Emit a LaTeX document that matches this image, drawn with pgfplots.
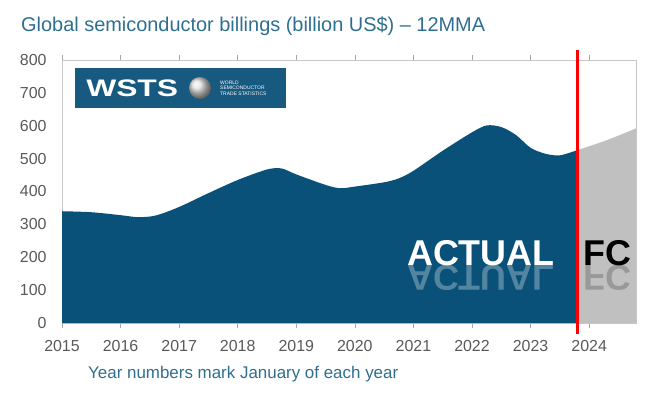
\documentclass[border=0pt]{standalone}
\usepackage{pgfplots}
\pgfplotsset{compat=1.18}
\usepackage{fontspec}
\setmainfont{Liberation Sans}
\definecolor{wblue}{HTML}{0A5179}
\definecolor{logoblue}{HTML}{17597F}
\definecolor{fcgray}{HTML}{C0C0C0}
\definecolor{titleblue}{HTML}{2E6F8F}
\definecolor{labgray}{HTML}{595959}
\begin{document}
\begin{tikzpicture}[x=1bp,y=1bp]
\useasboundingbox (0,0) rectangle (654,397);
\begin{axis}[
  at={(62bp,74bp)}, anchor=south west,
  scale only axis, width=574bp, height=263bp,
  xmin=2015, xmax=2024.8, ymin=0, ymax=800,
  xtick={2015,2016,...,2024}, ytick={0,100,...,800},
  /pgf/number format/1000 sep={},
  /pgf/number format/assume math mode=true,
  tick label style={font=\fontsize{16}{16}\selectfont, text=labgray},
  axis line style={draw=gray!45, line width=0.8pt},
  tick align=outside, major tick length=5bp,
  xtick style={draw=gray!70, line width=0.6pt},
  ytick style={draw=none},
  xticklabel style={yshift=-9bp},
  yticklabel style={xshift=-7bp},
  clip=false,
]
\addplot[fill=wblue, draw=none, smooth, tension=0.5] coordinates {
(2015.0,340) (2015.5,337) (2016.0,328) (2016.3,322) (2016.6,327)
(2017.0,353) (2017.5,395) (2018.0,435) (2018.5,467) (2018.75,470)
(2019.0,452) (2019.5,420) (2019.75,410) (2020.0,415) (2020.5,428)
(2020.75,440) (2021.0,463) (2021.5,524) (2022.0,580) (2022.25,601)
(2022.5,596) (2022.75,572) (2023.0,533) (2023.25,515) (2023.5,510)
(2023.8,526)} \closedcycle;
\addplot[fill=fcgray, draw=none, smooth] coordinates {
(2023.8,526) (2024.3,556) (2024.8,592)} \closedcycle;
\addplot[red, line width=2.6pt] coordinates {(2023.8,-32) (2023.8,830)};
\end{axis}
% reflections
\begin{scope}
\clip (400,104) rectangle (640,132);
\node[anchor=base west, inner sep=0, yscale=-1, transform shape, text=white, opacity=0.3,
  font=\fontsize{36}{36}\bfseries\selectfont] at (407,132) {ACTUAL};
\node[anchor=base west, inner sep=0, yscale=-1, transform shape, text=black, opacity=0.2,
  font=\fontsize{36}{36}\bfseries\selectfont] at (583,132) {FC};
\end{scope}
\node[anchor=base west, inner sep=0, text=white, font=\fontsize{36}{36}\bfseries\selectfont] at (407,132) {ACTUAL};
\node[anchor=base west, inner sep=0, text=black, font=\fontsize{36}{36}\bfseries\selectfont] at (583,132) {FC};
% logo
\fill[logoblue] (75,289) rectangle (286,329);
\node[anchor=west, inner sep=0, text=white, xscale=1.33, transform shape,
  font=\fontsize{24}{24}\bfseries\selectfont] at (86,309) {WSTS};
\shade[ball color=gray!25] (200,309) circle (11);
\node[anchor=west, inner sep=0, text=white, align=left,
  font=\fontsize{5}{5.5}\selectfont] at (220,309) {WORLD\\SEMICONDUCTOR\\TRADE STATISTICS};
% titles
\node[anchor=base west, inner sep=0, text=titleblue, font=\fontsize{20}{20}\selectfont] at (21,366) {Global semiconductor billings (billion US\$) -- 12MMA};
\node[anchor=base west, inner sep=0, text=titleblue, font=\fontsize{17}{17}\selectfont] at (88,19) {Year numbers mark January of each year};
\end{tikzpicture}
\end{document}
